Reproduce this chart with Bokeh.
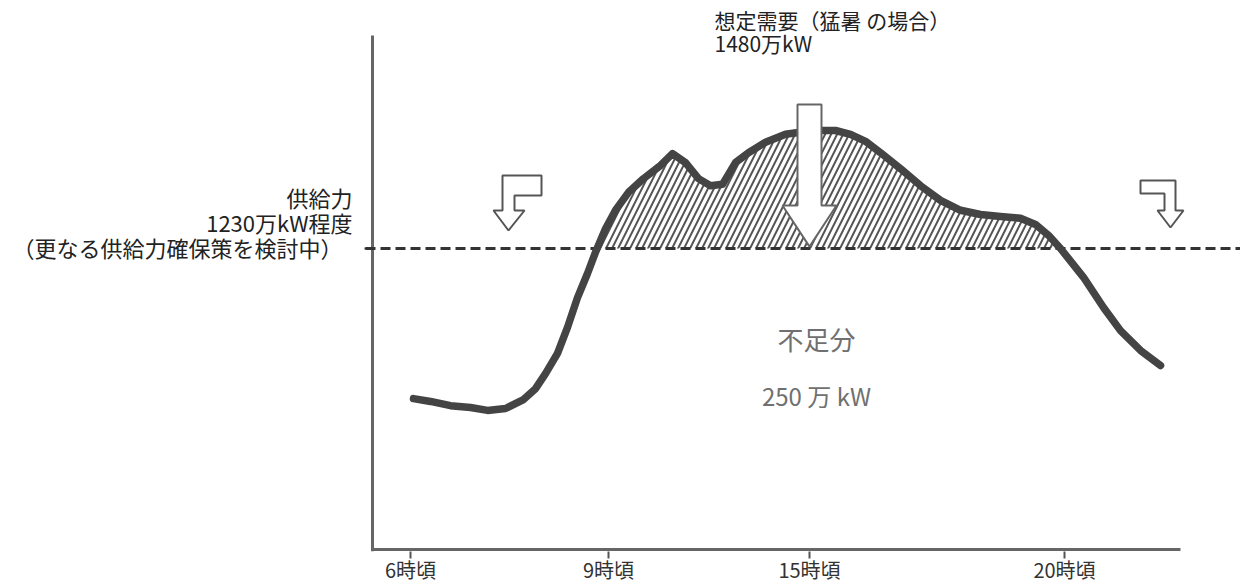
import numpy as np
from bokeh.plotting import figure
from bokeh.models import Range1d, FixedTicker, Label
from bokeh.embed import file_html
from bokeh.resources import INLINE

# ---- data ----
# position along the (non-linear) time axis
time_pos = [41, 58, 78, 98, 115, 133, 151, 163, 173, 185,
            195, 205, 215, 223, 233, 243, 256, 271, 288, 300,
            313, 326, 338, 350, 363, 376, 393, 413, 433, 448,
            463, 478, 493, 508, 528, 548, 568, 588, 608, 628,
            648, 663, 676, 688, 711, 731, 748, 768, 788]
# demand (万kW)
demand = [912, 906, 897, 893, 887, 891, 910, 933, 965, 1008,
          1063, 1126, 1177, 1222, 1272, 1311, 1349, 1378, 1406, 1431,
          1412, 1378, 1363, 1366, 1412, 1433, 1455, 1472, 1478, 1480,
          1480, 1472, 1457, 1433, 1399, 1363, 1332, 1311, 1302, 1298,
          1294, 1281, 1258, 1230, 1169, 1105, 1056, 1014, 982]
supply = 1230
peak = 1480
tick_pos = [38, 236, 437, 692]
tick_labels = ["6時頃", "9時頃", "15時頃", "20時頃"]

FONT = "Noto Sans CJK JP"

W, H = 1240, 586
PX = 0.472                 # pixels per 万kW
UPP = 1 / PX               # 万kW per pixel
SUPPLY_PX = 248            # screen row of the supply line
FRAME_BOTTOM_PX = 551
AXIS_LEFT_PX = 372
X0, X1 = -AXIS_LEFT_PX, W - AXIS_LEFT_PX
Y0 = supply - (FRAME_BOTTOM_PX - SUPPLY_PX) * UPP
Y1 = supply + SUPPLY_PX * UPP
Y_AXIS_TOP = supply + (SUPPLY_PX - 35) * UPP

p = figure(width=W, height=H, output_backend="svg", toolbar_location=None,
           x_range=Range1d(X0, X1), y_range=Range1d(Y0, Y1),
           min_border_left=0, min_border_right=0,
           min_border_top=0, min_border_bottom=H - FRAME_BOTTOM_PX)
p.grid.visible = False
p.outline_line_color = None
p.yaxis.visible = False

# x axis (library axis, line drawn separately so it ends before the edge)
p.xaxis.ticker = FixedTicker(ticks=tick_pos)
p.xaxis.major_label_overrides = {t: l for t, l in zip(tick_pos, tick_labels)}
p.xaxis.axis_line_color = None
p.xaxis.major_tick_out = 7
p.xaxis.major_tick_in = 0
p.xaxis.major_tick_line_color = "#555555"
p.xaxis.major_tick_line_width = 2
p.xaxis.minor_tick_line_color = None
p.xaxis.major_label_standoff = -4
p.xaxis.major_label_text_font = FONT
p.xaxis.major_label_text_font_size = "20px"
p.xaxis.major_label_text_color = "#333333"

axis_y = Y0 + 2 * UPP
p.line([0, 808], [axis_y, axis_y], line_color="#666666", line_width=3)
p.line([0, 0], [Y0, Y_AXIS_TOP], line_color="#666666", line_width=3)
p.line([-8, 0], [supply, supply], line_color="#333333", line_width=2)

# hatched shortage area
n = len(time_pos)
p.varea(x=time_pos, y1=[supply] * n, y2=list(np.maximum(np.array(demand), supply)),
        fill_alpha=0, hatch_pattern="/", hatch_color="#555555",
        hatch_weight=2, hatch_scale=12)

# supply line
p.line([-7, X1], [supply, supply], line_color="#333333", line_width=3,
       line_dash="10 5")

# demand curve
p.line(time_pos, demand, line_color="#444444", line_width=7.5,
       line_join="round", line_cap="round")

# big down arrow at the peak
ax = tick_pos[2]
a_top = peak + 55
a_head = supply + 91
a_tip = supply + 4
p.patch([ax - 12, ax + 12, ax + 12, ax + 27, ax, ax - 27, ax - 12],
        [a_top, a_top, a_head, a_head, a_tip, a_head, a_head],
        fill_color="white", line_color="#666666", line_width=2)


def bent_arrow(x_left, y_top_px, bar_w, mirrored):
    # outline in pixels relative to the anchor; y measured downward
    if not mirrored:
        pts = [(0, 0), (bar_w, 0), (bar_w, 20), (12, 20), (12, 35), (22, 35),
               (6, 55), (-9, 35), (0, 35)]
    else:
        pts = [(0, 0), (bar_w, 0), (bar_w, 30), (bar_w + 8, 30), (bar_w - 5, 47),
               (bar_w - 18, 30), (bar_w - 11, 30), (bar_w - 11, 13), (0, 13)]
    xs = [x_left + px for px, _ in pts]
    ys = [supply + (y_top_px - py) * UPP for _, py in pts]
    return xs, ys


lx, ly = bent_arrow(130, SUPPLY_PX - 175, 39, False)
p.patch(lx, ly, fill_color="white", line_color="#555555", line_width=2)
rx, ry = bent_arrow(768, SUPPLY_PX - 180, 35, True)
p.patch(rx, ry, fill_color="white", line_color="#555555", line_width=2)


# texts
def lab(x, y_px, text, size, color="#222222", align="left"):
    p.add_layout(Label(x=x, y=supply + (SUPPLY_PX - y_px) * UPP, text=text,
                       text_font=FONT, text_font_size=size, text_color=color,
                       text_align=align, text_baseline="middle"))


lab(-20, 196, "供給力", "22px", align="right")
lab(-20, 221, "1230万kW程度", "22px", align="right")
lab(-30, 246, "（更なる供給力確保策を検討中）", "22px", align="right")
lab(342, 19, "想定需要（猛暑 の場合）", "21px")
lab(342, 42, "1480万kW", "21px")
lab(444, 338, "不足分", "26px", color="#707070", align="center")
lab(444, 395, "250 万 kW", "24px", color="#707070", align="center")

open("out.html", "w").write(file_html(p, INLINE))
